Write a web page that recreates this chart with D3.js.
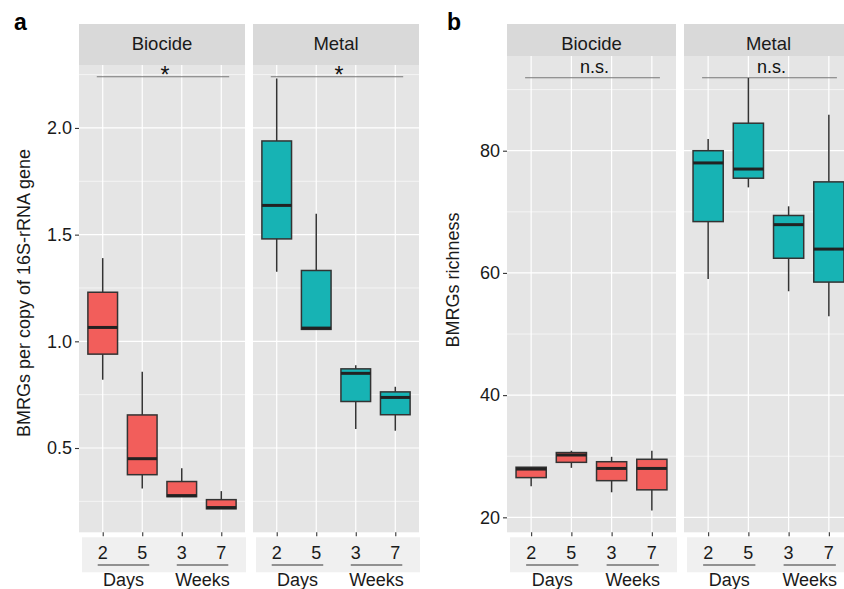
<!DOCTYPE html>
<html>
<head>
<meta charset="utf-8">
<script src="https://cdn.jsdelivr.net/npm/d3@7"></script>
<style>
  body { margin: 0; background: #fff; }
  svg { display: block; font-family: "Liberation Sans", Arial, Helvetica, sans-serif; }
</style>
</head>
<body>
<svg width="844" height="589"></svg>
<script>
// categories
var groups = ["2", "5", "3", "7"];
var periods = [["Days", "2", "5"], ["Weeks", "3", "7"]];
var facets = ["Biocide", "Metal"];

// box stats per group: [lower whisker, Q1, median, Q3, upper whisker]
var copyBiocide = [[0.82, 0.94, 1.065, 1.23, 1.39], [0.31, 0.375, 0.45, 0.655, 0.857], [0.272, 0.272, 0.277, 0.343, 0.405], [0.215, 0.215, 0.221, 0.258, 0.298]];
var copyMetal = [[1.326, 1.48, 1.637, 1.939, 2.232], [1.056, 1.056, 1.062, 1.332, 1.598], [0.589, 0.718, 0.85, 0.871, 0.888], [0.581, 0.656, 0.737, 0.763, 0.787]];
var richBiocide = [[25.1, 26.5, 27.9, 28.2, 28.2], [28.1, 29.0, 30.2, 30.6, 30.9], [24.1, 26.0, 28.0, 29.1, 29.9], [21.1, 24.5, 28.0, 29.5, 30.9]];
var richMetal = [[59.0, 68.4, 78.0, 80.0, 81.9], [74.0, 75.5, 77.0, 84.5, 91.9], [57.0, 62.4, 67.9, 69.4, 70.9], [52.9, 58.5, 63.9, 74.9, 85.9]];

// y axis ticks and significance labels
var copyTicks = [0.5, 1.0, 1.5, 2.0];
var copyMinor = [0.25, 0.75, 1.25, 1.75, 2.25];
var richTicks = [20, 40, 60, 80];
var richMinor = [30, 50, 70, 90];
var copySig = ["*", "*"];
var richSig = ["n.s.", "n.s."];

var colors = { Biocide: "#f25e5b", Metal: "#17b3b4" };

var svg = d3.select("svg");

var panels = [
  { letter: "a", lx: 14, x0: 79, fw: 166, gap: 8, top: 65, bottom: 532.3,
    domain: [0.105, 2.295], data: [copyBiocide, copyMetal], ticks: copyTicks, minor: copyMinor,
    fmt: d3.format(".1f"), sigY: 2.24, sig: copySig, sigDy: 6.5, sigSize: 23,
    title: "BMRGs per copy of 16S-rRNA gene", titleX: 29.5, titleY: 293 },
  { letter: "b", lx: 447, x0: 507, fw: 169, gap: 8, top: 56, bottom: 532.3,
    domain: [17.55, 95.5], data: [richBiocide, richMetal], ticks: richTicks, minor: richMinor,
    fmt: d3.format("d"), sigY: 91.95, sig: richSig, sigDy: -4.5, sigSize: 18,
    title: "BMRGs richness", titleX: 459, titleY: 280 }
];

panels.forEach(drawPanel);

function drawPanel(p) {
  var y = d3.scaleLinear().domain(p.domain).range([p.bottom, p.top]);

  svg.append("text")
      .attr("x", p.lx).attr("y", 30)
      .attr("font-size", 23).attr("font-weight", "bold")
      .text(p.letter);

  // y axis title
  svg.append("text")
      .attr("transform", "translate(" + p.titleX + "," + p.titleY + ") rotate(-90)")
      .attr("text-anchor", "middle")
      .attr("font-size", 18).attr("fill", "#1a1a1a")
      .text(p.title);

  // y axis on the left facet
  var yAxis = d3.axisLeft(y).tickValues(p.ticks).tickFormat(p.fmt).tickSize(4).tickPadding(3);
  var ya = svg.append("g")
      .attr("transform", "translate(" + p.x0 + ",0)")
      .call(yAxis);
  ya.select(".domain").remove();
  ya.selectAll("line").attr("stroke", "#333").attr("stroke-width", 1.1);
  ya.selectAll("text").attr("font-size", 18).attr("fill", "#1a1a1a").attr("font-family", null);

  facets.forEach(function (f, fi) {
    var x0 = p.x0 + fi * (p.fw + p.gap);
    var x = d3.scalePoint().domain(groups).range([x0, x0 + p.fw]).padding(0.6);
    var step = x.step();
    var g = svg.append("g");

    // strip
    g.append("rect").attr("x", x0).attr("y", 24).attr("width", p.fw).attr("height", p.top - 24).attr("fill", "#d9d9d9");
    g.append("text")
        .attr("x", x0 + p.fw / 2).attr("y", 50)
        .attr("text-anchor", "middle").attr("font-size", 18.5).attr("fill", "#1a1a1a")
        .text(f);

    // panel background + grid
    g.append("rect").attr("x", x0).attr("y", p.top).attr("width", p.fw).attr("height", p.bottom - p.top).attr("fill", "#e5e5e5");
    g.selectAll(".minor").data(p.minor).enter().append("line")
        .attr("x1", x0).attr("x2", x0 + p.fw)
        .attr("y1", function (d) { return y(d); }).attr("y2", function (d) { return y(d); })
        .attr("stroke", "#fff").attr("stroke-width", 0.6);
    g.selectAll(".major").data(p.ticks).enter().append("line")
        .attr("x1", x0).attr("x2", x0 + p.fw)
        .attr("y1", function (d) { return y(d); }).attr("y2", function (d) { return y(d); })
        .attr("stroke", "#fff").attr("stroke-width", 1.2);
    g.selectAll(".vgrid").data(groups).enter().append("line")
        .attr("x1", function (d) { return x(d); }).attr("x2", function (d) { return x(d); })
        .attr("y1", p.top).attr("y2", p.bottom)
        .attr("stroke", "#fff").attr("stroke-width", 1.2);

    // significance bracket
    var sx1 = x(groups[0]) - 0.15 * step, sx2 = x(groups[3]) + 0.2 * step;
    g.append("line")
        .attr("x1", sx1).attr("x2", sx2).attr("y1", y(p.sigY)).attr("y2", y(p.sigY))
        .attr("stroke", "#777").attr("stroke-width", 1.1);
    g.append("text")
        .attr("x", (sx1 + sx2) / 2 + 2).attr("y", y(p.sigY) + p.sigDy)
        .attr("text-anchor", "middle").attr("font-size", p.sigSize).attr("fill", "#111")
        .text(p.sig[fi]);

    // boxes
    var bw = step * 0.75;
    var box = g.selectAll(".box").data(p.data[fi]).enter().append("g")
        .attr("transform", function (d, i) { return "translate(" + x(groups[i]) + ",0)"; });
    box.append("line")
        .attr("y1", function (d) { return y(d[0]); }).attr("y2", function (d) { return y(d[4]); })
        .attr("stroke", "#333").attr("stroke-width", 1.5);
    box.append("rect")
        .attr("x", -bw / 2).attr("width", bw)
        .attr("y", function (d) { return y(d[3]); })
        .attr("height", function (d) { return y(d[1]) - y(d[3]); })
        .attr("fill", colors[f]).attr("stroke", "#333").attr("stroke-width", 1.5);
    box.append("line")
        .attr("x1", -bw / 2).attr("x2", bw / 2)
        .attr("y1", function (d) { return y(d[2]); }).attr("y2", function (d) { return y(d[2]); })
        .attr("stroke", "#222").attr("stroke-width", 3);

    // x axis ticks
    var xa = svg.append("g")
        .attr("transform", "translate(0," + p.bottom + ")")
        .call(d3.axisBottom(x).tickSize(4).tickFormat(""));
    xa.select(".domain").remove();
    xa.selectAll("line").attr("stroke", "#333").attr("stroke-width", 1.1);

    // x label strip with grouped labels
    g.append("rect").attr("x", x0 + 3).attr("y", 537.3).attr("width", p.fw - 2).attr("height", 35).attr("fill", "#f0f0f0");
    g.selectAll(".xlab").data(groups).enter().append("text")
        .attr("x", function (d) { return x(d); }).attr("y", 559)
        .attr("text-anchor", "middle").attr("font-size", 18).attr("fill", "#1a1a1a")
        .text(function (d) { return d; });
    periods.forEach(function (per) {
      var ux1 = x(per[1]) - 5, ux2 = x(per[2]) + 7;
      g.append("line").attr("x1", ux1).attr("x2", ux2).attr("y1", 565).attr("y2", 565)
          .attr("stroke", "#333").attr("stroke-width", 1.2);
      g.append("text").attr("x", (ux1 + ux2) / 2).attr("y", 586)
          .attr("text-anchor", "middle").attr("font-size", 18).attr("fill", "#1a1a1a")
          .text(per[0]);
    });
  });
}
</script>
</body>
</html>
